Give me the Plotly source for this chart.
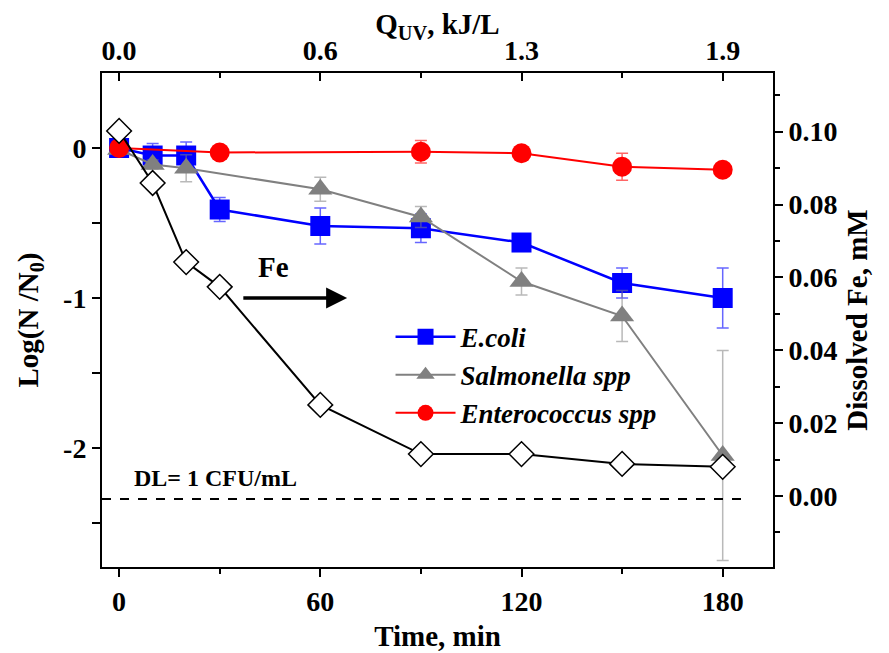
import plotly.graph_objects as go

# ---------------- data ----------------
time_ecoli = [0, 10, 20, 30, 60, 90, 120, 150, 180]
ecoli = [0.0, -0.05, -0.05, -0.41, -0.52, -0.535, -0.63, -0.90, -1.00]
ecoli_err = [0.0, 0.08, 0.09, 0.08, 0.12, 0.095, 0.02, 0.10, 0.20]

time_salm = [0, 10, 20, 60, 90, 120, 150, 180]
salm = [-0.01, -0.11, -0.135, -0.275, -0.46, -0.89, -1.12, -2.05]
salm_err = [0.0, 0.03, 0.09, 0.08, 0.07, 0.09, 0.17, 0.70]

time_ent = [0, 30, 90, 120, 150, 180]
ent = [0.0, -0.03, -0.025, -0.035, -0.125, -0.145]
ent_err = [0.02, 0.02, 0.075, 0.02, 0.09, 0.0]

time_fe = [0, 10, 20, 30, 60, 90, 120, 150, 180]
fe = [0.1002, 0.0859, 0.0642, 0.0574, 0.025, 0.0115, 0.0115, 0.0088, 0.008]

x_tickvals = [0, 60, 120, 180]
x_ticktext = ["0", "60", "120", "180"]
quv_ticktext = ["0.0", "0.6", "1.3", "1.9"]
x_minor = [30, 90, 150]
y_tickvals = [0, -1, -2]
y_ticktext = ["0", "-1", "-2"]
y_minor = [-0.5, -1.5, -2.5]
fe_tickvals = [0.0, 0.02, 0.04, 0.06, 0.08, 0.10]
fe_ticktext = ["0.00", "0.02", "0.04", "0.06", "0.08", "0.10"]
fe_minor = [-0.01, 0.01, 0.03, 0.05, 0.07, 0.09, 0.11]

dl_value = -2.34
dl_xend = 185.5

FONT = "Liberation Serif"

fig = go.Figure()

fig.add_trace(go.Scatter(
    x=time_ecoli, y=ecoli, name="E.coli", mode="lines+markers",
    line=dict(color="#0000ff", width=2.5),
    marker=dict(symbol="square", size=20, color="#0000ff"),
    error_y=dict(type="data", array=ecoli_err, color="rgba(0,0,255,0.6)", thickness=1.5, width=6),
))
fig.add_trace(go.Scatter(
    x=time_salm, y=salm, name="Salmonella spp", mode="lines+markers",
    line=dict(color="#808080", width=2),
    marker=dict(symbol="triangle-up", size=21, color="#808080"),
    error_y=dict(type="data", array=salm_err, color="rgba(128,128,128,0.55)", thickness=1.5, width=6),
))
fig.add_trace(go.Scatter(
    x=time_ent, y=ent, name="Enterococcus spp", mode="lines+markers",
    line=dict(color="#ff0000", width=2),
    marker=dict(symbol="circle", size=20, color="#ff0000"),
    error_y=dict(type="data", array=ent_err, color="rgba(255,0,0,0.6)", thickness=1.5, width=6),
))
fig.add_trace(go.Scatter(
    x=time_fe, y=fe, name="Fe", mode="lines+markers", showlegend=False,
    xaxis="x2", yaxis="y2",
    line=dict(color="black", width=2),
    marker=dict(symbol="diamond", size=19, color="white", line=dict(color="black", width=1.5)),
))

# detection limit line
fig.add_shape(type="line", xref="x", yref="y", x0=-5.1, x1=dl_xend, y0=dl_value, y1=dl_value,
              line=dict(color="black", width=2, dash="dash"))

fig.add_annotation(x=3.8, y=-2.2, xref="x", yref="y", text="DL= 1 CFU/mL", showarrow=False,
                   xanchor="left", yanchor="middle",
                   font=dict(family=FONT, size=24, color="black", weight="bold"))
fig.add_annotation(x=46, y=-0.79, xref="x", yref="y", text="Fe", showarrow=False,
                   font=dict(family=FONT, size=29, color="black", weight="bold"))
fig.add_annotation(x=68, y=-1.0, ax=36.6, ay=-1.0, xref="x", yref="y", axref="x", ayref="y",
                   text="", showarrow=True, arrowhead=2, arrowsize=1.2, arrowwidth=3.5,
                   arrowcolor="black")

tickfont = dict(family=FONT, size=28, color="black", weight="bold")
titlefont = dict(family=FONT, size=29, color="black", weight="bold")

common = dict(showline=True, linecolor="black", linewidth=2, showgrid=False, zeroline=False,
              ticks="outside", ticklen=8, tickwidth=2, tickcolor="black", tickfont=tickfont,
              automargin=False)

# page body adds an 8px offset, so the figure is sized to fit inside the window
fig.update_layout(
    width=881, height=645,
    margin=dict(l=94, r=116, t=65, b=86, autoexpand=False),
    paper_bgcolor="white", plot_bgcolor="white",
    showlegend=True,
    legend=dict(x=0.43, y=0.515, xanchor="left", yanchor="top", bgcolor="rgba(0,0,0,0)",
                font=dict(family=FONT, size=27, color="black", weight="bold", style="italic"),
                itemwidth=60, tracegroupgap=0),
    xaxis=dict(range=[-5.1, 195], tickmode="array", tickvals=x_tickvals, ticktext=x_ticktext,
               minor=dict(tickmode="array", tickvals=x_minor, ticklen=5, tickwidth=2, ticks="outside", tickcolor="black"),
               title=dict(text="Time, min", font=titlefont, standoff=10), **common),
    xaxis2=dict(range=[-5.1, 195], overlaying="x", side="top", anchor="y2",
                tickmode="array", tickvals=x_tickvals, ticktext=quv_ticktext,
                minor=dict(tickmode="array", tickvals=x_minor, ticklen=5, tickwidth=2, ticks="inside", tickcolor="black"),
                title=dict(text="Q<sub>UV</sub>, kJ/L", font=titlefont, standoff=12),
                **{**common, "ticks": "inside"}),
    yaxis=dict(range=[-2.793, 0.5], tickmode="array", tickvals=y_tickvals, ticktext=y_ticktext,
               minor=dict(tickmode="array", tickvals=y_minor, ticklen=8, tickwidth=2, ticks="outside", tickcolor="black"),
               title=dict(text="Log(N /N<sub>0</sub>)", font=titlefont, standoff=16), **common),
    yaxis2=dict(range=[-0.0195, 0.1161], overlaying="y", side="right", anchor="x2",
                tickmode="array", tickvals=fe_tickvals, ticktext=fe_ticktext,
                minor=dict(tickmode="array", tickvals=fe_minor, ticklen=5, tickwidth=2, ticks="outside", tickcolor="black"),
                title=dict(text="Dissolved Fe, mM", font=titlefont, standoff=10), **common),
)

fig.write_html("out.html")
